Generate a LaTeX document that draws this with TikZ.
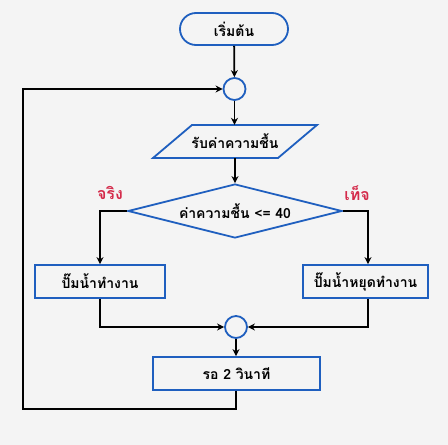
\documentclass[tikz,border=0pt]{standalone}
\usepackage{fontspec}
\newfontfamily\thaifont[Script=Thai]{Loma}
\usetikzlibrary{shapes.geometric,arrows.meta,calc}
\definecolor{bg}{HTML}{F4F4F4}
\definecolor{fblue}{HTML}{1F5FBF}
\definecolor{tred}{HTML}{D42A4A}
\begin{document}
\begin{tikzpicture}[x=1pt,y=-1pt,
  every node/.style={font=\thaifont\bfseries\fontsize{14}{16}\selectfont, text=black},
  shp/.style={draw=fblue, line width=1.8pt, fill=bg, inner sep=0pt},
  term/.style={shp, rounded corners=16pt, minimum width=108pt, minimum height=32pt},
  proc/.style={shp, minimum height=33pt},
  conn/.style={shp, circle, minimum size=22pt},
  dec/.style={shp, diamond, minimum width=214pt, minimum height=54pt, aspect=4},
  lab/.style={text=tred, font=\thaifont\bfseries\fontsize{16}{18}\selectfont},
  line/.style={draw=black, line width=1.8pt},
  arr/.style={line, -{Stealth[length=7pt,width=7pt]}}]
\fill[bg] (0,0) rectangle (448,445);
\useasboundingbox (0,0) rectangle (448,445);
\node[term] (start) at (234,29) {เริ่มต้น};
\node[conn] (c1) at (234.5,89) {};
\draw[draw=fblue, line width=1.8pt, fill=bg, line join=miter] (192,125) -- (317,125) -- (278,158) -- (153,158) -- cycle;
\node[minimum width=125pt, minimum height=33pt, inner sep=0pt] (in) at (235,141.5) {รับค่าความชื้น};
\node[dec] (d) at (235,211) {ค่าความชื้น <= 40};
\node[lab] (yes) at (110,193) {จริง};
\node[lab] (no) at (357,193) {เท็จ};
\node[proc, minimum width=130pt] (p1) at (100,281.5) {ปั๊มน้ำทำงาน};
\node[proc, minimum width=125pt] (p2) at (365.5,281.5) {ปั๊มน้ำหยุดทำงาน};
\node[conn] (c2) at (236,327) {};
\node[proc, minimum width=167pt] (w) at (236.5,373.5) {รอ 2 วินาที};
\coordinate (lp) at (23,409);
\coordinate (rx) at (368,0);
\draw[arr] (start) -- (c1);
\draw[arr] (c1) -- (c1 |- in.north);
\draw[arr] (in.south -| d.north) -- (d.north);
\draw[arr] (d.west) -| (p1.north);
\draw[arr] (d.east) -| (p2.north -| rx);
\draw[arr] (p1.south) |- (c2.west);
\draw[arr] (p2.south -| rx) |- (c2.east);
\draw[arr] (c2) -- (w.north -| c2);
\draw[arr] (w.south -| c2) |- (lp) |- (c1.west);
\end{tikzpicture}
\end{document}
